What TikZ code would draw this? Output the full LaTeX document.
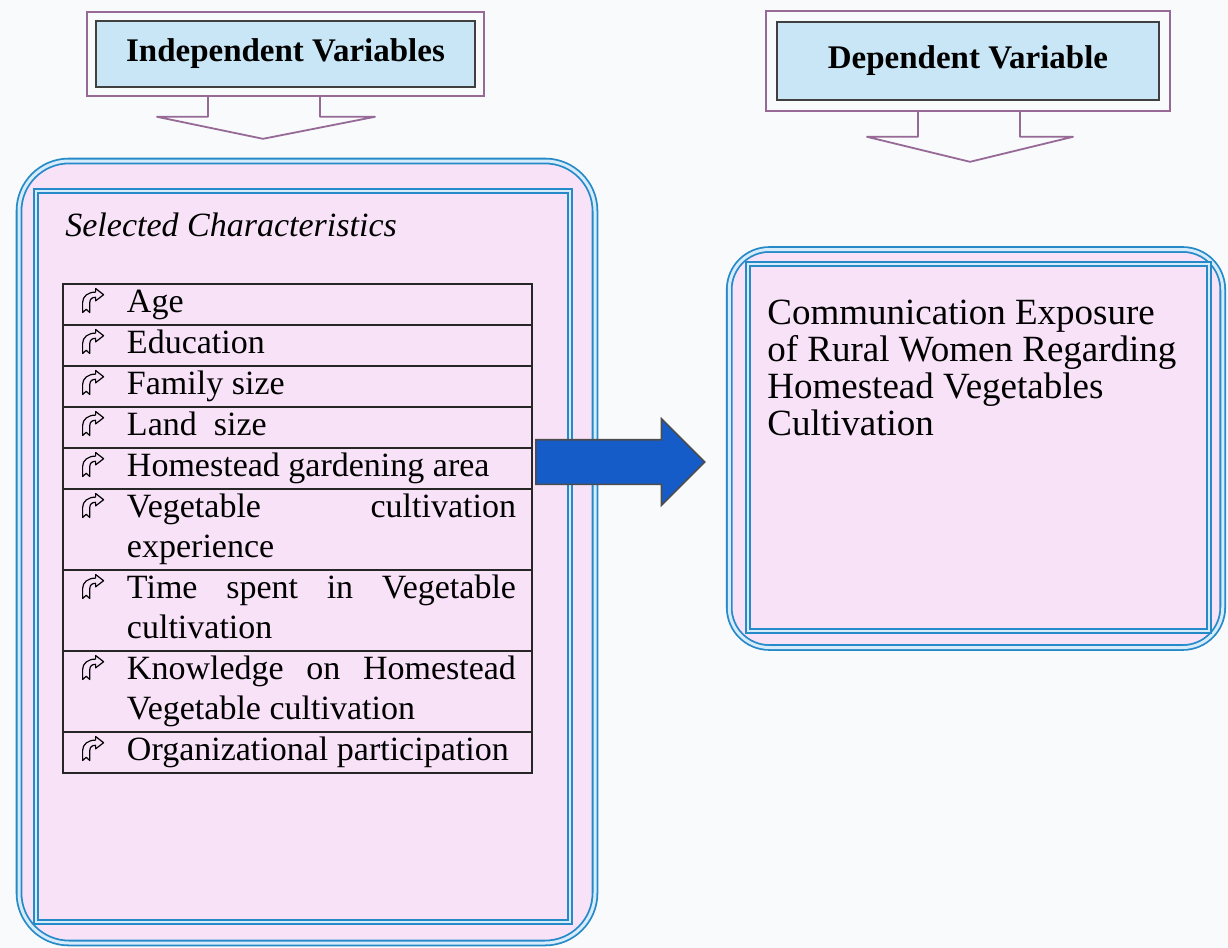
\documentclass[tikz,border=0pt]{standalone}
\usepackage{fontspec}
\setmainfont{Liberation Serif}
\usetikzlibrary{positioning,fit,shapes.arrows}

\definecolor{pagebg}{RGB}{248,250,252}
\definecolor{pinkfill}{RGB}{248,226,248}
\definecolor{boxline}{RGB}{38,138,200}
\definecolor{boxgap}{RGB}{215,236,250}
\definecolor{headfill}{RGB}{200,230,246}
\definecolor{framepurple}{RGB}{150,105,150}
\definecolor{flowblue}{RGB}{22,92,200}

\newcommand{\rowfont}{\fontsize{17}{20}\selectfont\hyphenpenalty=10000\relax}
\newcommand{\bullicon}{\tikz[x=1pt, y=1pt, baseline=0pt, line width=0.6pt, line join=round]
	\draw (0,0) -- (1.8,1.6) -- (3.6,0) -- (3.6,5) .. controls (3.6,6.8) and (4.8,7.6) .. (6.5,7.6) -- (6.5,5.8) -- (10.5,8.9) -- (6.5,12) -- (6.5,10.2) .. controls (2.8,10.2) and (0,8.2) .. (0,5) -- cycle;}
\newcommand{\rowtext}[1]{\noindent\hangindent=24pt\hangafter=1\makebox[24pt][l]{\hspace{1.5pt}\bullicon}\strut#1\strut\par}

\begin{document}
\begin{tikzpicture}[x=0.5pt, y=-0.5pt,
	outerbox/.style={draw=boxline, double=boxgap, double distance=1.5pt, line width=0.9pt, fill=pinkfill},
	innerbox/.style={draw=boxline, double=boxgap, double distance=1.2pt, line width=0.8pt},
	headbox/.style={draw=black!75, line width=0.8pt, fill=headfill, inner sep=0pt, font=\bfseries\fontsize{16.5}{20}\selectfont},
	headframe/.style={draw=framepurple, line width=1pt},
	headarrow/.style={draw=framepurple, line width=0.9pt, line join=round},
	rowbox/.style={draw=black!85, line width=0.7pt, text width=218.5pt, inner xsep=8pt, inner ysep=0.25pt, align=justify, font=\rowfont, outer sep=0pt}]
			%page
			\fill[pagebg] (0,0) rectangle (1228,948);
			\useasboundingbox (0,0) rectangle (1228,948);
			%headings with open arrows
			\node[headbox, minimum width=189.5pt, minimum height=33pt] (indep) at (285.5,54) {Independent Variables};
			\node[headframe, fit=(indep), inner sep=4pt] (indepframe) {};
			\draw[headarrow] ([xshift=-38.75pt]indepframe.south) -- ++(0,20) -- ++(-51,0) -- ++(106,22) -- ++(112,-22) -- ++(-55,0) -- ++(0,-20);
			\node[headbox, minimum width=191pt, minimum height=39pt] (dep) at (968,61) {Dependent Variable};
			\node[headframe, fit=(dep), inner sep=5pt] (depframe) {};
			\draw[headarrow] ([xshift=-25pt]depframe.south) -- ++(0,25) -- ++(-51,0) -- ++(103,25) -- ++(103,-25) -- ++(-53,0) -- ++(0,-25);
			%selected characteristics
			\node[outerbox, rounded corners=25pt, minimum width=288pt, minimum height=391pt] (charbox) at (307,552) {};
			\node[innerbox, minimum width=267pt, minimum height=365.5pt] (charinner) at (303,556.5) {};
			\node[font=\itshape\fontsize{17}{20}\selectfont, anchor=base west, inner sep=0pt] (chartitle) at (65,236) {Selected Characteristics};
			\node[rowbox, anchor=north west] (age) at (63,284) {\rowtext{Age}};
			\node[rowbox, below=0pt of age] (edu) {\rowtext{Education}};
			\node[rowbox, below=0pt of edu] (family) {\rowtext{Family size}};
			\node[rowbox, below=0pt of family] (land) {\rowtext{Land\ \ size}};
			\node[rowbox, below=0pt of land] (garden) {\rowtext{Homestead gardening area}};
			\node[rowbox, below=0pt of garden] (exper) {\rowtext{Vegetable cultivation experience}};
			\node[rowbox, below=0pt of exper] (timespent) {\rowtext{Time spent in Vegetable cultivation}};
			\node[rowbox, below=0pt of timespent] (knowledge) {\rowtext{Knowledge on Homestead Vegetable cultivation}};
			\node[rowbox, below=0pt of knowledge] (orgpart) {\rowtext{Organizational participation}};
			%block arrow
			\node[single arrow, draw=black!70, line width=0.8pt, fill=flowblue, minimum height=84.5pt, minimum width=42.5pt, single arrow head extend=10.5pt, inner xsep=0pt, inner ysep=10.75pt, anchor=tail] (flow) at (535,462) {};
			%communication exposure
			\node[outerbox, rounded corners=20pt, minimum width=246.75pt, minimum height=199pt] (expbox) at (976,448.5) {};
			\node[innerbox, minimum width=230.5pt, minimum height=183.5pt] (expinner) at (978.5,447.5) {};
			\node[anchor=north west, inner sep=0pt, align=left, font=\fontsize{18.5}{18.5}\selectfont] (exptext) at (767,300) {Communication Exposure\\of Rural Women Regarding\\Homestead Vegetables\\Cultivation};
		\end{tikzpicture}
\end{document}
